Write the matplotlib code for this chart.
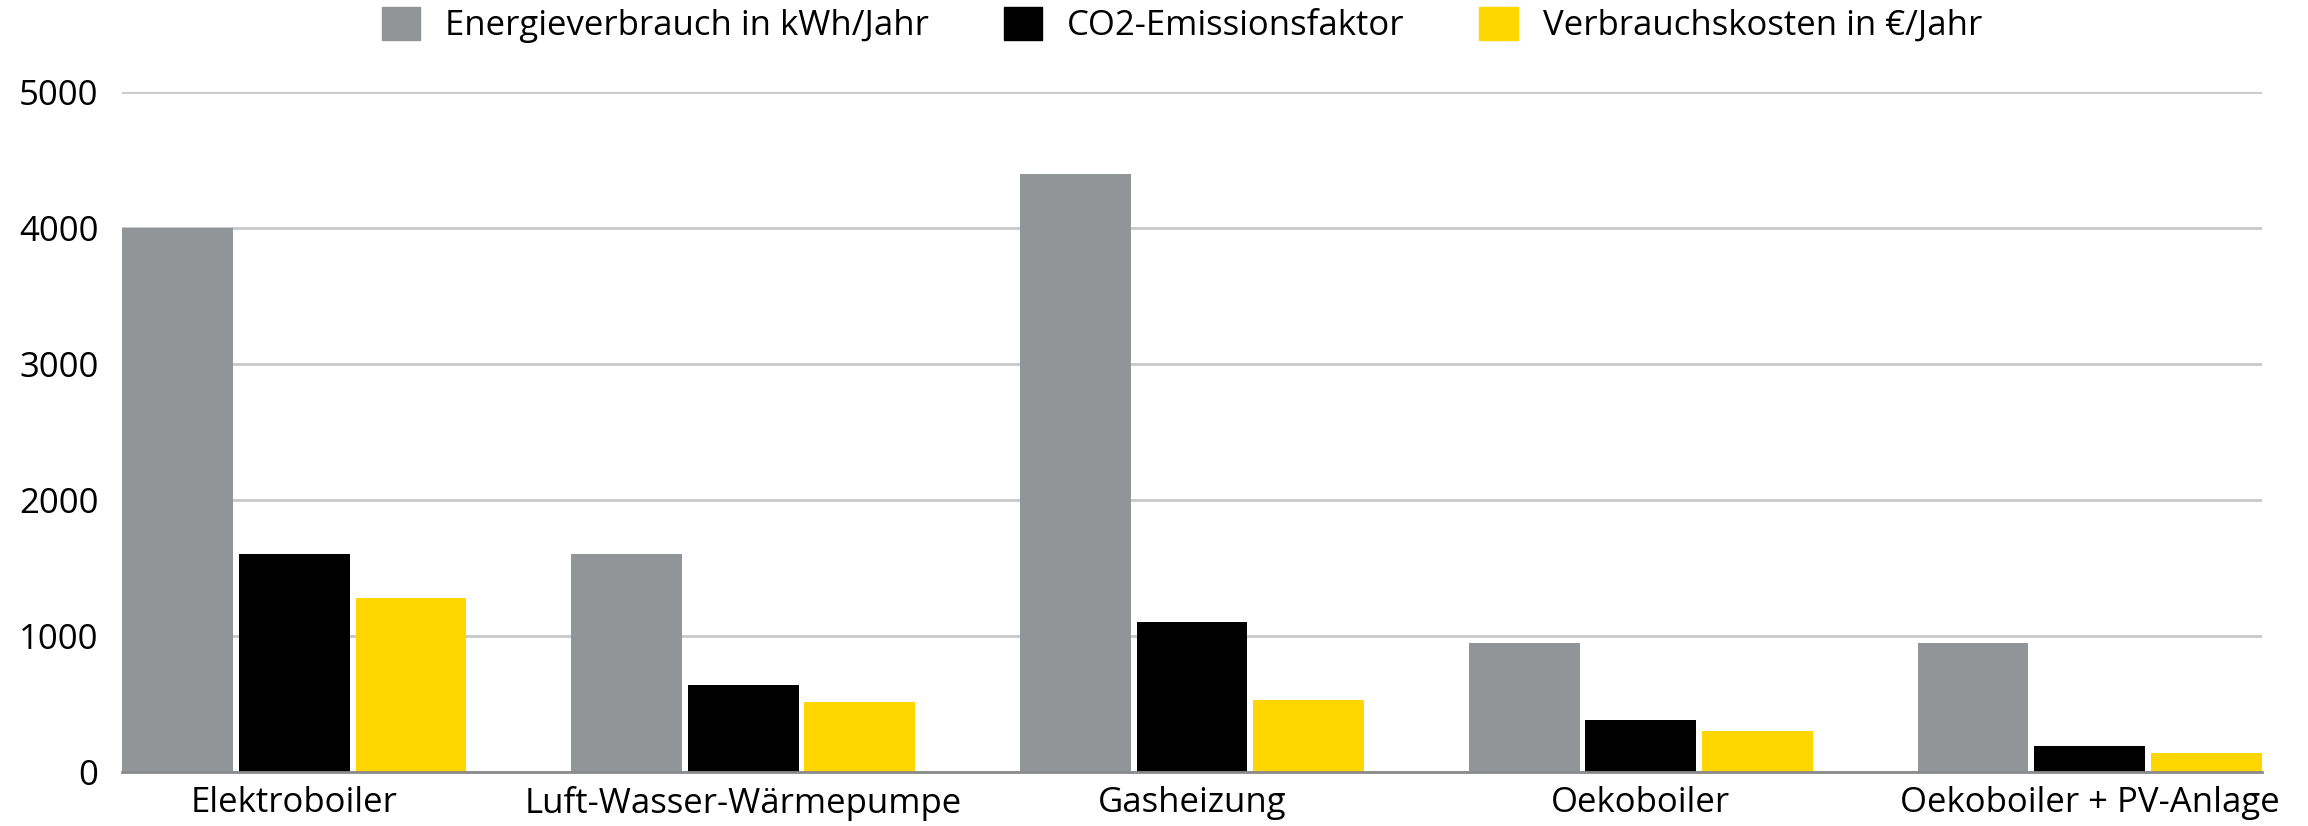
import numpy as np
import matplotlib
matplotlib.use("Agg")
import matplotlib.pyplot as plt
from matplotlib.patches import Patch

# data
categories = ["Elektroboiler", "Luft-Wasser-Wärmepumpe", "Gasheizung",
              "Oekoboiler", "Oekoboiler + PV-Anlage"]
energie = [4000, 1600, 4400, 950, 950]
co2 = [1600, 640, 1100, 380, 190]
kosten = [1280, 510, 530, 300, 135]
series_names = ["Energieverbrauch in kWh/Jahr", "CO2-Emissionsfaktor",
                "Verbrauchskosten in €/Jahr"]
yticks = [0, 1000, 2000, 3000, 4000, 5000]

colors = ["#919598", "#000000", "#FFD600"]

plt.rcParams["font.family"] = ["Open Sans", "DejaVu Sans"]
plt.rcParams["font.weight"] = "medium"
FS = 25

fig = plt.figure(figsize=(23.08, 8.26), dpi=100)
ax = fig.add_axes([0.0529, 0.0656, 0.9271, 0.8228])

x = np.arange(len(categories))
width = 0.247
offset = 0.26
for i, (vals, col) in enumerate(zip([energie, co2, kosten], colors)):
    ax.bar(x + (i - 1) * offset, vals, width, color=col, zorder=3)

ax.set_xlim(-offset - width / 2, len(categories) - 1 + offset + width / 2)
ax.set_ylim(0, 5000)
ax.set_yticks(yticks)
ax.set_yticklabels([str(t) for t in yticks], fontsize=FS)
ax.set_xticks(x)
ax.set_xticklabels(categories, fontsize=FS)
ax.tick_params(axis="y", length=0, pad=17)
ax.tick_params(axis="x", length=0, pad=10)

ax.grid(axis="y", color="#c8c8c8", linewidth=2, zorder=0)
for s in ["top", "right", "left"]:
    ax.spines[s].set_visible(False)
ax.spines["bottom"].set_color("#8a8a8a")
ax.spines["bottom"].set_linewidth(2)
ax.spines["bottom"].set_zorder(4)

handles = [Patch(facecolor=c, edgecolor=c) for c in colors]
fig.legend(handles, series_names, loc="center", bbox_to_anchor=(0.512, 0.97),
           ncol=3, frameon=False, fontsize=FS, handlelength=1.1,
           handleheight=1.1, handletextpad=0.72, columnspacing=2.16)

fig.savefig("out.png", dpi=100)
